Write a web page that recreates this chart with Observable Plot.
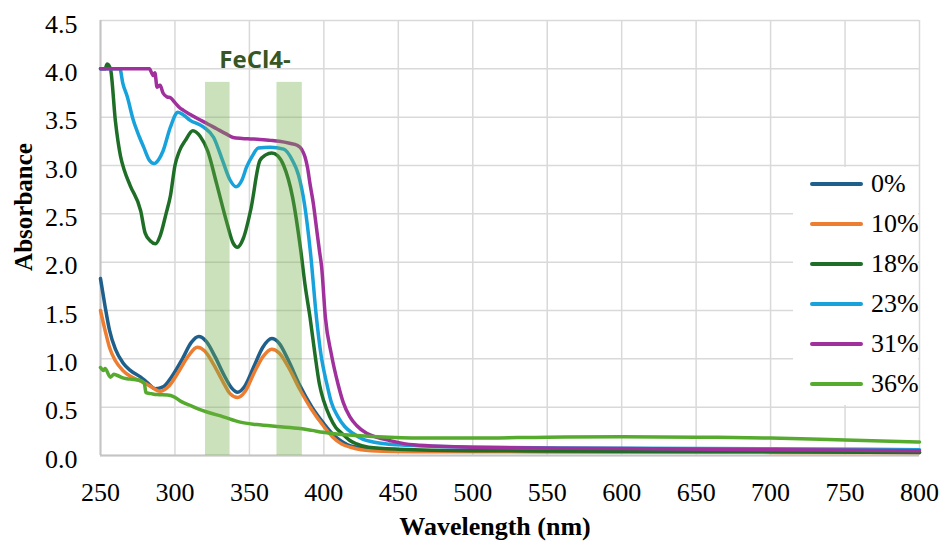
<!DOCTYPE html>
<html>
<head>
<meta charset="utf-8">
<script src="https://cdn.jsdelivr.net/npm/d3@7"></script>
<script src="https://cdn.jsdelivr.net/npm/@observablehq/plot@0.6"></script>
<style>
  html, body { margin: 0; padding: 0; background: #fff; }
  #wrap { position: relative; width: 943px; height: 542px; }
  #wrap svg text { font-family: "Liberation Serif", "Times New Roman", serif; }
  #legend { position: absolute; left: 793px; top: 167px; width: 125px; height: 238px; background: #fff; font-family: "Liberation Serif", "Times New Roman", serif; font-size: 26px; color: #000; }
  .item { position: absolute; left: 0; height: 30px; display: flex; align-items: center; }
  .sw { width: 53px; height: 4px; margin-left: 17px; margin-right: 8px; border-radius: 2px; }
</style>
</head>
<body>
<div id="wrap"><div id="legend"></div></div>
<script>
// Series labels and colours
const seriesNames = ["0%", "10%", "18%", "23%", "31%", "36%"];
const seriesColors = ["#1f5f8b", "#ed7d31", "#1f6e27", "#17a2dc", "#a0309c", "#56ab2f"];

// Axis ticks
const xTicks = [250, 300, 350, 400, 450, 500, 550, 600, 650, 700, 750, 800];
const yTicks = [0, 0.5, 1, 1.5, 2, 2.5, 3, 3.5, 4, 4.5];

// Highlighted bands [start nm, end nm, top absorbance]
const bands = [[320.5, 337, 3.86], [368.5, 385.5, 3.86]];
const annotation = [[353.8, 4.09, "FeCl4-"]];

// Spectra: [wavelength nm, absorbance]
const s0 = [[250,1.83],[253,1.55],[256,1.3],[260,1.1],[265,0.96],[270,0.88],[277,0.81],[281,0.76],[287,0.69],[292,0.71],[298,0.82],[305,1.0],[311,1.17],[316,1.23],[321,1.18],[327,1.02],[333,0.83],[338,0.70],[342,0.655],[347,0.72],[353,0.92],[359,1.12],[365,1.21],[370,1.16],[376,0.99],[384,0.72],[392,0.5],[400,0.33],[406,0.22],[411,0.155],[416,0.11],[422,0.086],[430,0.065],[440,0.055],[460,0.05],[500,0.045],[600,0.04],[700,0.04],[800,0.035]];
const s1 = [[250,1.5],[253,1.3],[256,1.12],[260,0.98],[265,0.88],[270,0.82],[277,0.77],[283,0.72],[290,0.665],[296,0.72],[303,0.88],[309,1.03],[315,1.12],[320,1.08],[326,0.94],[332,0.77],[337,0.64],[342,0.6],[347,0.66],[353,0.85],[359,1.02],[365,1.1],[370,1.06],[376,0.92],[384,0.68],[392,0.47],[400,0.3],[406,0.19],[412,0.12],[418,0.085],[425,0.06],[440,0.045],[470,0.04],[600,0.035],[800,0.03]];
const s2 = [[250,4.0],[253,4.0],[254.5,4.05],[256.7,4.0],[260,3.46],[263.4,3.1],[266,2.95],[270,2.79],[277,2.53],[280,2.3],[283.5,2.22],[287,2.19],[290,2.27],[294,2.5],[297,2.69],[300,3.0],[303,3.15],[307,3.26],[312,3.36],[317,3.3],[322,3.15],[328,2.81],[335,2.4],[339,2.2],[342,2.155],[346,2.25],[351,2.55],[357,3.05],[361,3.11],[365,3.13],[369,3.1],[373,3.0],[379,2.67],[384.5,2.12],[387.5,1.75],[390.7,1.43],[394,1.05],[397,0.74],[400,0.56],[404,0.4],[408,0.29],[412,0.23],[417,0.16],[422,0.12],[430,0.085],[450,0.065],[500,0.05],[600,0.045],[700,0.04],[800,0.03]];
const s3 = [[250,4.0],[263,4.0],[265,3.85],[268,3.71],[272,3.47],[276,3.3],[279,3.19],[283,3.05],[286,3.02],[289,3.06],[292,3.15],[297,3.4],[302,3.55],[306,3.52],[310,3.47],[319,3.4],[326,3.29],[332,3.05],[337,2.85],[341,2.78],[345,2.85],[348,2.98],[352,3.1],[356,3.18],[364,3.19],[373,3.17],[379,3.05],[383,2.9],[387,2.6],[391,2.1],[395,1.43],[398,1.05],[402,0.74],[405,0.55],[409.5,0.4],[414,0.3],[419.5,0.23],[426,0.17],[433,0.14],[450,0.11],[500,0.085],[600,0.075],[700,0.07],[800,0.06]];
const s4 = [[250,4.0],[283,4.0],[284,3.97],[285.5,3.93],[286.5,3.96],[288,3.81],[290,3.83],[292,3.75],[294.7,3.71],[297,3.7],[300,3.65],[303,3.6],[305.7,3.57],[310,3.53],[317,3.47],[322,3.43],[328,3.38],[334,3.33],[339,3.29],[345,3.28],[350.5,3.275],[357,3.27],[364,3.26],[370,3.25],[377,3.23],[382,3.21],[385,3.17],[387.3,3.09],[389,2.98],[390.7,2.81],[393,2.6],[395,2.36],[397,2.12],[398.5,1.95],[401,1.43],[405,1.05],[409.5,0.74],[413,0.55],[417.5,0.4],[422,0.31],[428.7,0.23],[435,0.19],[444,0.155],[460,0.11],[500,0.085],[600,0.072],[700,0.06],[800,0.05]];
const s5 = [[250,0.91],[252,0.88],[253,0.9],[256.7,0.81],[259,0.84],[261,0.83],[265.6,0.8],[270,0.79],[276.8,0.776],[279.5,0.74],[280.5,0.65],[284,0.64],[288,0.63],[295,0.625],[299,0.61],[304,0.56],[310,0.52],[316,0.48],[321.5,0.45],[332.5,0.4],[343.8,0.345],[355,0.32],[368.4,0.3],[384,0.28],[392,0.26],[399.4,0.24],[410,0.22],[422,0.207],[444,0.19],[470,0.18],[500,0.18],[550,0.19],[600,0.195],[650,0.19],[700,0.18],[750,0.16],[800,0.14]];
const seriesData = [s0, s1, s2, s3, s4, s5];

const rows = seriesData.flatMap((s, i) => s.map(([w, a]) => ({series: seriesNames[i], w, a})));

const serif = "'Liberation Serif', 'Times New Roman', serif";

const chart = Plot.plot({
  width: 943,
  height: 542,
  marginLeft: 100,
  marginRight: 24,
  marginTop: 20,
  marginBottom: 87,
  style: {fontFamily: serif, fontSize: "26px", color: "#000", background: "#fff"},
  x: {domain: [250, 800], ticks: xTicks, label: null},
  y: {domain: [0, 4.5], ticks: yTicks, label: null},
  color: {domain: seriesNames, range: seriesColors},
  marks: [
    Plot.gridX(xTicks, {stroke: "#d9d9d9", strokeOpacity: 1, strokeWidth: 1.5}),
    Plot.gridY(yTicks, {stroke: "#d9d9d9", strokeOpacity: 1, strokeWidth: 1.5}),
    Plot.ruleX([250], {stroke: "#c4c4c4", strokeWidth: 2}),
    Plot.ruleY([0], {stroke: "#c4c4c4", strokeWidth: 2}),
    Plot.line(rows, {x: "w", y: "a", z: "series", stroke: "series", strokeWidth: 3.5, curve: "monotone-x", strokeLinejoin: "round"}),
    Plot.rect(bands, {x1: d => d[0], x2: d => d[1], y1: 0, y2: d => d[2], fill: "#70ad47", fillOpacity: 0.37}),
    Plot.text(annotation, {x: d => d[0], y: d => d[1], text: d => d[2], fontFamily: "Open Sans, sans-serif", fontWeight: "bold", fontSize: 24, fill: "#375623", lineAnchor: "middle"}),
    Plot.axisX(xTicks, {tickSize: 0, tickPadding: 27, fill: "#000", fontSize: 26, fontFamily: serif, label: null}),
    Plot.axisY(yTicks, {tickSize: 0, tickPadding: 23, dy: 4, fill: "#000", fontSize: 26, fontFamily: serif, label: null, tickFormat: d => d.toFixed(1)}),
    Plot.text(["Wavelength (nm)"], {frameAnchor: "bottom", textAnchor: "middle", dx: -15, dy: 79, fontWeight: "bold", fontSize: 26, fill: "#000", fontFamily: serif}),
    Plot.text(["Absorbance"], {frameAnchor: "left", textAnchor: "middle", dx: -77, dy: -31, rotate: -90, fontWeight: "bold", fontSize: 25, fill: "#000", fontFamily: serif})
  ]
});

const wrap = document.getElementById("wrap");
wrap.insertBefore(chart, wrap.firstChild);
chart.querySelectorAll("text").forEach(t => {
  if (t.textContent === "FeCl4-") t.style.fontFamily = "'Open Sans', sans-serif";
});

const legend = document.getElementById("legend");
seriesNames.forEach((name, i) => {
  const item = document.createElement("div");
  item.className = "item";
  item.style.top = (2 + i * 40) + "px";
  const sw = document.createElement("div");
  sw.className = "sw";
  sw.style.background = seriesColors[i];
  const t = document.createElement("span");
  t.textContent = name;
  item.appendChild(sw);
  item.appendChild(t);
  legend.appendChild(item);
});
</script>
</body>
</html>
